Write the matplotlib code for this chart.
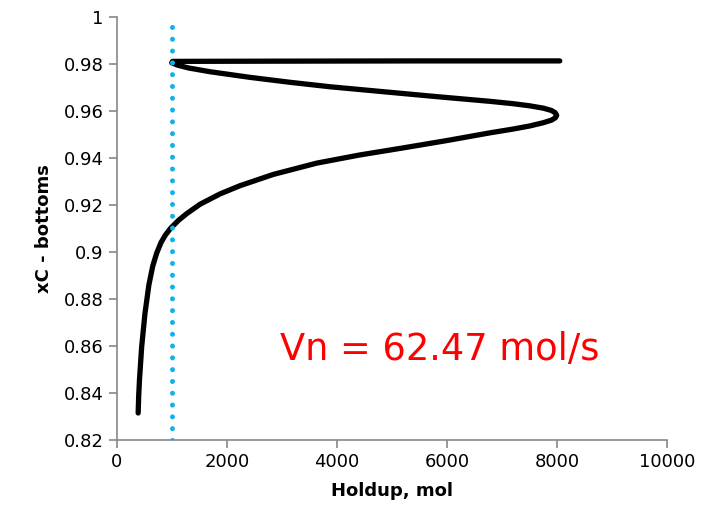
import matplotlib.pyplot as plt
from matplotlib.ticker import FuncFormatter

# holdup (mol) vs bottoms composition
holdup = [385, 395, 410, 449, 509, 580, 650, 720, 800, 880, 975, 1120,
          1267, 1509, 1873, 2236, 2842, 3630, 4418, 5206, 5994, 6782,
          7200, 7500, 7750, 7900, 7970, 7994,
          7970, 7900, 7750, 7500, 7200, 6782, 5812, 4842, 3873, 3145,
          2418, 1691, 1300, 1100, 995, 1010, 3000, 5500, 8050]
xc = [0.8315, 0.8390, 0.8460, 0.8597, 0.8739, 0.8860, 0.8940, 0.8994,
      0.9040, 0.9072, 0.9101, 0.9135, 0.9163, 0.9203, 0.9247, 0.9282,
      0.9330, 0.9378, 0.9413, 0.9443, 0.9474, 0.9507, 0.9523, 0.9536,
      0.9550, 0.9561, 0.9571, 0.9581,
      0.9592, 0.9602, 0.9612, 0.9622, 0.9631, 0.9641, 0.9661, 0.9682,
      0.9703, 0.9722, 0.9743, 0.9767, 0.9783, 0.9795, 0.9805, 0.9811,
      0.9812, 0.9813, 0.9813]
vn_line = 1000
label_text = "Vn = 62.47 mol/s"

fig = plt.figure(figsize=(7.06, 5.30), dpi=100)
ax = fig.add_axes([0.1657, 0.1698, 0.7791, 0.7982])

ax.plot(holdup, xc, color="black", linewidth=3.8, solid_capstyle="round",
        solid_joinstyle="round")
ax.plot([vn_line, vn_line], [0.82, 1.0], color="#13b0ee",
        linestyle=(0, (0.01, 2.35)), linewidth=3.6, dash_capstyle="round")

ax.set_xlim(0, 10000)
ax.set_ylim(0.82, 1.0)
ax.set_xticks(range(0, 10001, 2000))
ax.set_yticks([0.82 + 0.02 * i for i in range(10)])
ax.yaxis.set_major_formatter(FuncFormatter(lambda v, p: f"{v:.2f}".rstrip("0").rstrip(".")))

for s in ["top", "right"]:
    ax.spines[s].set_visible(False)
for s in ["left", "bottom"]:
    ax.spines[s].set_color("#888888")
    ax.spines[s].set_linewidth(1.2)
ax.tick_params(direction="out", length=6, color="#888888", width=1.2,
               labelsize=13, labelcolor="black")

ax.set_xlabel("Holdup, mol", fontsize=13, fontweight="bold", labelpad=8)
ax.set_ylabel("xC - bottoms", fontsize=13, fontweight="bold", labelpad=8)

ax.text(5873, 0.8583, label_text, color="red", fontsize=26.5, ha="center",
        va="center")

fig.savefig("out.png", dpi=100)
